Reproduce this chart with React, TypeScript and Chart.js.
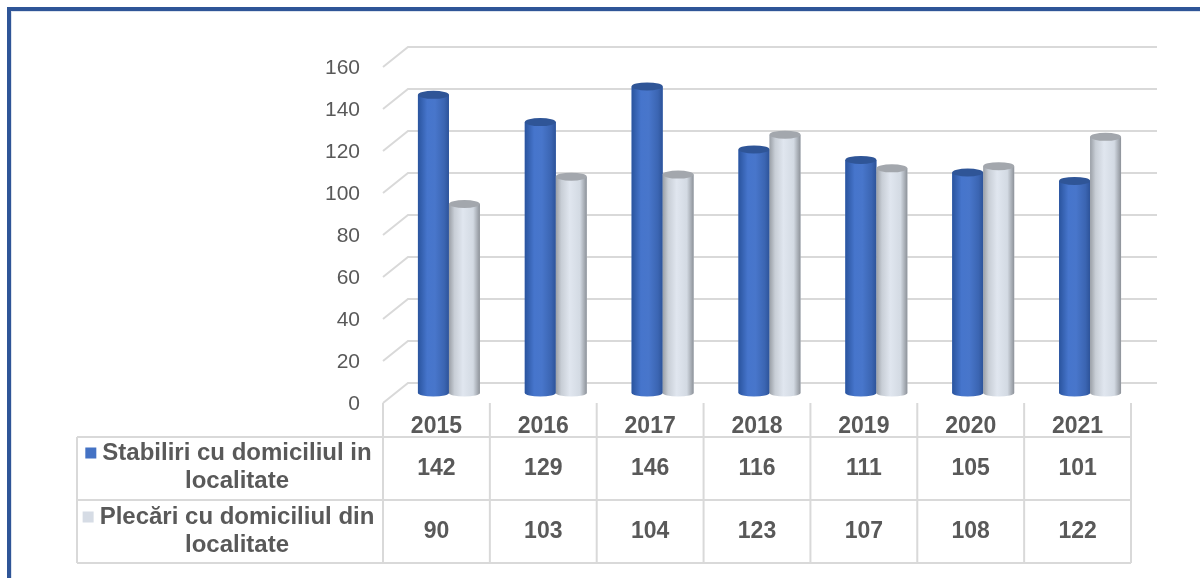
import React, { useEffect, useRef } from "react";
import { Chart, registerables } from "chart.js";

Chart.register(...registerables);

const categories = ["2015", "2016", "2017", "2018", "2019", "2020", "2021"];
const seriesNames = [
  ["Stabiliri cu domiciliul in", "localitate"],
  ["Plecări cu domiciliul din", "localitate"],
];
const stabiliri = [142, 129, 146, 116, 111, 105, 101];
const plecari = [90, 103, 104, 123, 107, 108, 122];
const yTicks = [0, 20, 40, 60, 80, 100, 120, 140, 160];

const BLUE = "#4472C4";
const GRAY = "#D6DCE5";
const TEXT = "#595959";
const GRID = "#D9D9D9";
const DEPTH_X = 12.5;
const DEPTH_Y = 10;
const FONT = "'Liberation Sans', Arial, sans-serif";

const cylinderPlugin = {
  id: "cylinders",
  beforeDatasetsDraw(chart: any) {
    const { ctx, chartArea, scales } = chart;
    const ys = scales.y;
    ctx.save();
    ctx.strokeStyle = GRID;
    ctx.lineWidth = 2;
    yTicks.forEach((v) => {
      const yMid = ys.getPixelForValue(v);
      const yb = yMid - DEPTH_Y;
      const yf = yMid + DEPTH_Y;
      ctx.beginPath();
      ctx.moveTo(chartArea.left - DEPTH_X, yf);
      ctx.lineTo(chartArea.left + DEPTH_X, yb);
      ctx.lineTo(chartArea.right + DEPTH_X + 1, yb);
      ctx.stroke();
    });
    ctx.restore();
  },
  afterDatasetsDraw(chart: any) {
    const { ctx } = chart;
    const styles = [
      {
        stops: [
          [0, "#2A549E"],
          [0.3, "#4675CC"],
          [0.55, "#4876CB"],
          [0.85, "#3B65B2"],
          [1, "#2D5399"],
        ],
        cap: "#2F5597",
      },
      {
        stops: [
          [0, "#9A9FA6"],
          [0.18, "#C8CED6"],
          [0.45, "#E0E6EF"],
          [0.78, "#D3DAE3"],
          [1, "#8D9299"],
        ],
        cap: "#A3A7AD",
      },
    ];
    chart.data.datasets.forEach((_: any, di: number) => {
      const meta = chart.getDatasetMeta(di);
      const st = styles[di];
      meta.data.forEach((bar: any) => {
        const { x, y, base, width } = bar.getProps(["x", "y", "base", "width"], true);
        const l = x - width / 2;
        const r = x + width / 2;
        const rx = width / 2;
        const ry = 4;
        const g = ctx.createLinearGradient(l, 0, r, 0);
        st.stops.forEach((s: any) => g.addColorStop(s[0], s[1]));
        ctx.save();
        ctx.beginPath();
        ctx.moveTo(l, y);
        ctx.lineTo(l, base);
        ctx.ellipse(x, base, rx, 3.5, 0, Math.PI, 0, true);
        ctx.lineTo(r, y);
        ctx.closePath();
        ctx.fillStyle = g;
        ctx.fill();
        ctx.beginPath();
        ctx.ellipse(x, y, rx, ry, 0, 0, Math.PI * 2);
        ctx.fillStyle = st.cap;
        ctx.fill();
        ctx.restore();
      });
    });
  },
  afterDraw(chart: any) {
    const { ctx, chartArea, scales } = chart;
    const xs = scales.x;
    const ys = scales.y;
    const n = categories.length;
    const colLeft = chartArea.left - DEPTH_X;
    const colW = (chartArea.right - chartArea.left) / n;
    const tableLeft = 77;
    const headTop = ys.getPixelForValue(0) + DEPTH_Y;
    const rowTop = 437;
    const rowMid = 500;
    const rowBottom = 563;
    const tableRight = colLeft + colW * n;
    ctx.save();
    ctx.strokeStyle = GRID;
    ctx.lineWidth = 2;
    ctx.beginPath();
    [rowTop, rowMid, rowBottom].forEach((yy) => {
      ctx.moveTo(tableLeft, yy);
      ctx.lineTo(tableRight, yy);
    });
    ctx.moveTo(tableLeft, rowTop);
    ctx.lineTo(tableLeft, rowBottom);
    for (let i = 0; i <= n; i++) {
      const xx = colLeft + colW * i;
      ctx.moveTo(xx, headTop);
      ctx.lineTo(xx, rowBottom);
    }
    ctx.stroke();

    ctx.fillStyle = TEXT;
    ctx.textAlign = "center";
    ctx.textBaseline = "middle";
    ctx.font = `bold 23px ${FONT}`;
    const rows = [stabiliri, plecari];
    const rowCenters = [469, 532];
    rows.forEach((vals, ri) => {
      vals.forEach((v, i) => {
        const cx = xs.getPixelForValue(i) - DEPTH_X;
        ctx.fillText(String(v), cx, rowCenters[ri]);
      });
    });

    const labelCx = 237;
    const lineYs = [
      [453, 481],
      [517, 545],
    ];
    const keyColors = [BLUE, GRAY];
    ctx.font = `bold 24px ${FONT}`;
    seriesNames.forEach((lines, ri) => {
      ctx.textAlign = "center";
      ctx.fillStyle = TEXT;
      ctx.fillText(lines[0], labelCx, lineYs[ri][0]);
      ctx.fillText(lines[1], labelCx, lineYs[ri][1]);
      const w = ctx.measureText(lines[0]).width;
      ctx.fillStyle = keyColors[ri];
      ctx.fillRect(labelCx - w / 2 - 17, lineYs[ri][0] - 5.5, 11, 11);
    });
    ctx.restore();
  },
};

export default function App() {
  const ref = useRef<HTMLCanvasElement>(null);
  useEffect(() => {
    if (!ref.current) return;
    const chart = new Chart(ref.current, {
      type: "bar",
      data: {
        labels: categories,
        datasets: [
          {
            label: seriesNames[0].join(" "),
            data: stabiliri,
            backgroundColor: BLUE,
            borderWidth: 0,
            categoryPercentage: 0.58,
            barPercentage: 1.0,
          },
          {
            label: seriesNames[1].join(" "),
            data: plecari,
            backgroundColor: GRAY,
            borderWidth: 0,
            categoryPercentage: 0.58,
            barPercentage: 1.0,
          },
        ],
      },
      options: {
        animation: false,
        responsive: false,
        maintainAspectRatio: false,
        layout: {
          padding: { left: 295.5, right: 56.5, top: 57, bottom: 125 },
        },
        plugins: {
          legend: { display: false },
          tooltip: { enabled: false },
          title: { display: false },
        },
        scales: {
          x: {
            grid: { display: false, drawTicks: false },
            border: { display: false },
            ticks: {
              color: TEXT,
              font: { family: FONT, size: 23, weight: "bold" },
              labelOffset: -DEPTH_X,
              padding: 20,
              maxRotation: 0,
            },
            afterFit: (s: any) => {
              s.height = 60;
            },
          },
          y: {
            min: 0,
            max: 160,
            grid: { display: false, drawTicks: false },
            border: { display: false },
            ticks: {
              stepSize: 20,
              color: TEXT,
              font: { family: FONT, size: 21 },
              labelOffset: 11,
              padding: 35.5,
            },
            afterFit: (s: any) => {
              s.width = 100;
            },
          },
        },
      },
      plugins: [cylinderPlugin],
    });
    return () => chart.destroy();
  }, []);
  return (
    <div
      style={{
        position: "absolute",
        left: 0,
        top: 0,
        width: 1200,
        height: 578,
        background: "#fff",
        overflow: "hidden",
      }}
    >
      <div
        style={{
          position: "absolute",
          left: 7,
          top: 7,
          width: 1300,
          height: 700,
          borderLeft: "4px solid #2F5597",
          borderTop: "4px solid #2F5597",
          boxShadow: "inset 1px 1px 0 #DCE3EE",
        }}
      />
      <canvas
        ref={ref}
        width={1200}
        height={578}
        style={{ position: "absolute", left: 0, top: 0, width: 1200, height: 578 }}
      />
    </div>
  );
}
